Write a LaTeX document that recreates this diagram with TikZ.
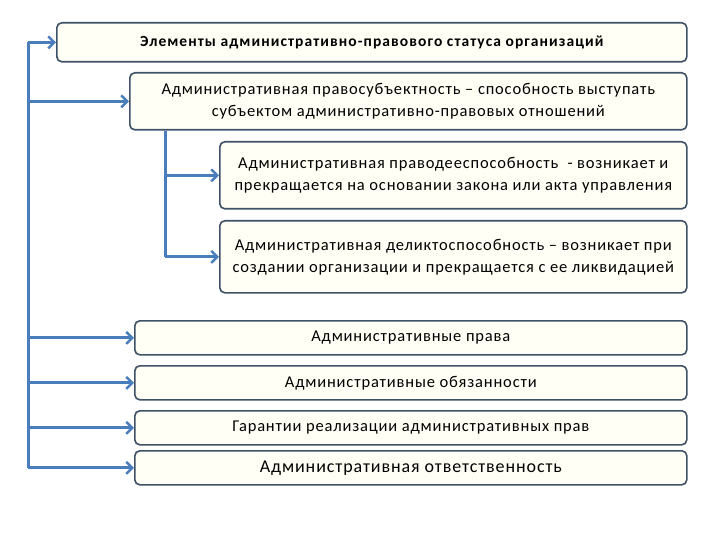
\documentclass[tikz,border=0pt]{standalone}
\usepackage{fontspec}
\setmainfont{Carlito}
\usetikzlibrary{arrows.meta}

\definecolor{boxline}{HTML}{3E5166}
\definecolor{boxfill}{HTML}{FFFFF6}
\definecolor{arrowblue}{HTML}{4A7DBB}

\tikzset{
  box/.style={draw=boxline, line width=1.6pt, fill=boxfill, rounded corners=5pt,
    anchor=north west, inner sep=2pt, align=center,
    font=\fontsize{16.5}{22}\selectfont\addfontfeatures{LetterSpace=5}},
  link/.style={draw=arrowblue, line width=3pt},
  linkarr/.style={link, -{Straight Barb[length=6pt,width=12pt,line width=2.5pt]}}
}

\begin{document}
\begin{tikzpicture}[x=1pt, y=-1pt]
    \useasboundingbox (0,0) rectangle (720,540);

    \node[box, minimum width=630pt, minimum height=39pt,
          font=\fontsize{15.5}{18}\selectfont\bfseries\addfontfeatures{LetterSpace=7}] (title) at (56,22)
        {Элементы административно-правового статуса организаций};
    \node[box, minimum width=557pt, minimum height=57pt] (subj) at (129,72)
        {Административная правосубъектность – способность выступать\\субъектом административно-правовых отношений};
    \node[box, minimum width=467pt, minimum height=67pt] (capac) at (219,141)
        {Административная праводееспособность \ - возникает и\\прекращается на основании закона или акта управления};
    \node[box, minimum width=467pt, minimum height=72pt] (delict) at (219,220)
        {Административная деликтоспособность – возникает при\\создании организации и прекращается с ее ликвидацией};

    \node[box, minimum width=552pt, minimum height=34pt] (rights) at (134,320)
        {Административные права};
    \node[box, minimum width=552pt, minimum height=34pt] (duties) at (134,365)
        {Административные обязанности};
    \node[box, minimum width=552pt, minimum height=34pt] (guar) at (134,410)
        {Гарантии реализации административных прав};
    \node[box, minimum width=552pt, minimum height=34pt,
          font=\fontsize{18}{21}\selectfont\addfontfeatures{LetterSpace=5}] (resp) at (134,450)
        {Административная ответственность};

    % main spine on the left
    \coordinate (spine) at (28,0);
    \draw[link] (spine |- title.west) -- (spine |- resp.west);
    \foreach \b in {title, subj, rights, duties, guar, resp}
        \draw[linkarr] (spine |- \b.west) -- (\b.west);

    % branch under the subject box
    \coordinate (branch) at (165,0);
    \draw[link] (branch |- subj.south) -- (branch |- delict.west);
    \foreach \b in {capac, delict}
        \draw[linkarr] (branch |- \b.west) -- (\b.west);
\end{tikzpicture}
\end{document}
